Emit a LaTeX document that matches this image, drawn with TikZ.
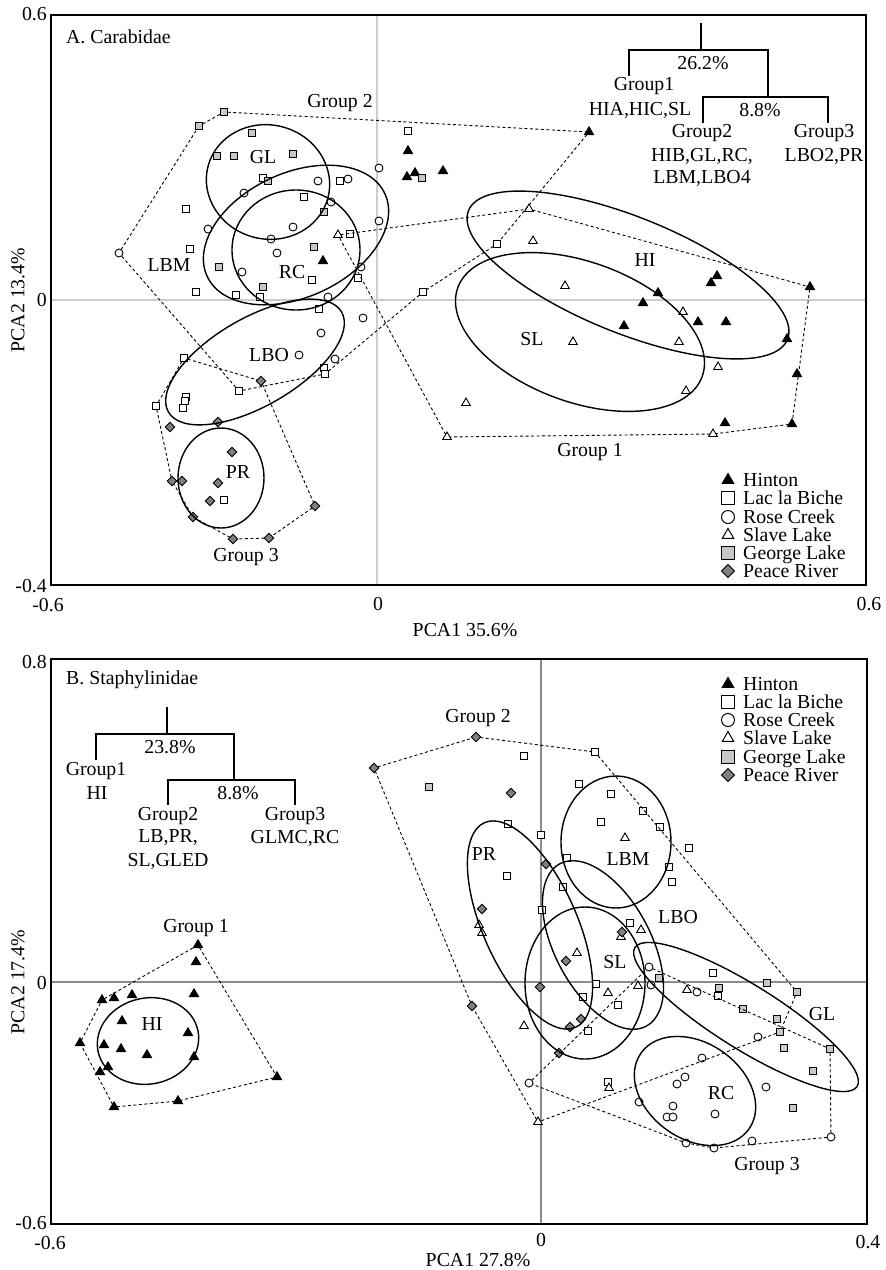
\documentclass[tikz,border=0pt]{standalone}
\usepackage{fontspec}
\setmainfont{Liberation Serif}
\usetikzlibrary{shapes.geometric}

\definecolor{zeroA}{gray}{0.80}
\definecolor{zeroB}{gray}{0.55}
\definecolor{glfill}{gray}{0.78}
\definecolor{prfill}{gray}{0.50}

\tikzset{
  ptbase/.style={draw=black, line width=0.9pt, inner sep=0pt, outer sep=0pt},
  hinton/.style={ptbase, regular polygon, regular polygon sides=3, minimum size=10.5pt, fill=black},
  lacbiche/.style={ptbase, rectangle, minimum size=7.5pt, fill=white},
  rosecreek/.style={ptbase, circle, minimum size=8pt, fill=white},
  slavelake/.style={ptbase, regular polygon, regular polygon sides=3, minimum size=10pt, fill=white},
  georgelake/.style={ptbase, rectangle, minimum size=7.5pt, fill=glfill},
  peaceriver/.style={ptbase, diamond, minimum size=9.5pt, fill=prfill},
  legmk/.style={minimum size=13pt, line width=1pt},
  hull/.style={line width=0.9pt, dash pattern=on 3pt off 2.5pt},
  ring/.style={line width=1.4pt},
  frame/.style={line width=1.5pt},
  tree/.style={line width=1.3pt},
  lbl/.style={inner sep=0pt}
}

\begin{document}
\begin{tikzpicture}[x=1pt, y=-1pt, font=\fontsize{19.8}{20}\selectfont]
  \useasboundingbox (0,0) rectangle (886,1270);

  % ---------------- A. Carabidae ----------------
  \draw[zeroA, line width=1.2pt] (377,15) -- (377,585);
  \draw[zeroA, line width=1.2pt] (51,300) -- (866,300);
  \draw[frame] (51,15) rectangle (866,585);

  \node[lbl, anchor=east] (yA1) at (47,14) {0.6};
  \node[lbl, anchor=east] (yA2) at (47,300) {0};
  \node[lbl, anchor=east] (yA3) at (47,586) {-0.4};
  \node[lbl] (xA1) at (48,605) {-0.6};
  \node[lbl] (xA2) at (378,604) {0};
  \node[lbl] (xA3) at (869,604) {0.6};
  \node[lbl] (xlabA) at (465,630) {PCA1 35.6\%};
  \node[lbl, rotate=90] (ylabA) at (18,300) {PCA2 13.4\%};
  \node[lbl, anchor=west] (titleA) at (66,37) {A. Carabidae};

  % points
  \foreach \n/\x/\y in {1/323/261, 2/408/151, 3/407/177, 4/415/173, 5/443/171, 6/589/132,
      7/624/326, 8/643/303, 9/658/293, 10/698/322, 11/726/322, 12/711/283, 13/717/276,
      14/810/287, 15/787/339, 16/797/374, 17/725/423, 18/792/424}
    \node[hinton] (hA\n) at (\x,\y) {};
  \foreach \n/\x/\y in {1/408/131, 2/186/209, 3/263/178, 4/304/197, 5/190/249, 6/312/280,
      7/196/292, 8/236/295, 9/260/297, 10/340/181, 11/350/234, 12/358/278, 13/319/309,
      14/324/368, 15/325/374, 16/423/292, 17/497/244, 18/184/358, 19/239/391, 20/186/397,
      21/185/401, 22/183/408, 23/156/406, 24/224/500}
    \node[lacbiche] (lA\n) at (\x,\y) {};
  \foreach \n/\x/\y in {1/318/181, 2/244/193, 3/208/229, 4/293/227, 5/271/239, 6/277/253,
      7/119/253, 8/242/272, 9/328/297, 10/348/179, 11/331/202, 12/379/168, 13/379/221,
      14/361/267, 15/321/333, 16/299/355, 17/363/318, 18/335/359}
    \node[rosecreek] (rA\n) at (\x,\y) {};
  \foreach \n/\x/\y in {1/338/235, 2/529/209, 3/533/241, 4/565/286, 5/573/342, 6/466/403,
      7/447/437, 8/683/312, 9/679/342, 10/718/367, 11/686/391, 12/713/434}
    \node[slavelake] (sA\n) at (\x,\y) {};
  \foreach \n/\x/\y in {1/224/112, 2/199/126, 3/252/133, 4/217/156, 5/234/156, 6/293/154,
      7/268/181, 8/324/212, 9/314/247, 10/219/267, 11/263/287, 12/422/178}
    \node[georgelake] (gA\n) at (\x,\y) {};
  \foreach \n/\x/\y in {1/261/381, 2/170/427, 3/218/422, 4/232/452, 5/172/481, 6/182/481,
      7/218/483, 8/210/501, 9/193/517, 10/315/506, 11/233/539, 12/269/538}
    \node[peaceriver] (pA\n) at (\x,\y) {};

  % hulls
  \draw[hull] (gA1) -- (hA6) -- (lA17) -- (lA16) -- (lA15) -- (lA19) -- (rA7) -- (gA2) -- (gA1);
  \draw[hull] (sA1) -- (sA2) -- (hA14) -- (hA18) -- (sA12) -- (sA7) -- (sA1);
  \draw[hull] (lA18) -- (pA1) -- (pA10) -- (pA12) -- (pA11) -- (pA9) -- (pA5) -- (lA23) -- (lA18);

  % ellipses
  \draw[ring, rotate around={-15:(268,182)}] (268,182) ellipse [x radius=62, y radius=57];
  \draw[ring, rotate around={25:(296,235)}] (296,235) ellipse [x radius=98, y radius=62];
  \draw[ring] (296,250) ellipse [x radius=64, y radius=60];
  \draw[ring, rotate around={30:(255,362)}] (255,362) ellipse [x radius=100, y radius=44];
  \draw[ring] (221,478) ellipse [x radius=43, y radius=50];
  \draw[ring, rotate around={-22:(628,275)}] (628,275) ellipse [x radius=172, y radius=58];
  \draw[ring, rotate around={-20:(580,332)}] (580,332) ellipse [x radius=130, y radius=70];

  \node[lbl] (GLa) at (263,157) {GL};
  \node[lbl] (LBMa) at (169,265) {LBM};
  \node[lbl] (RCa) at (292,272) {RC};
  \node[lbl] (LBOa) at (269,355) {LBO};
  \node[lbl] (PRa) at (238,472) {PR};
  \node[lbl] (HIa) at (645,260) {HI};
  \node[lbl] (SLa) at (532,339) {SL};
  \node[lbl] (grpA2) at (340,103) {Group 2};
  \node[lbl] (grpA1) at (590,452) {Group 1};
  \node[lbl] (grpA3) at (246,557) {Group 3};

  % dendrogram
  \draw[tree] (701,23) -- (701,50);
  \draw[tree] (629,76) -- (629,50) -- (768,50) -- (768,97);
  \draw[tree] (703,123) -- (703,97) -- (828,97) -- (828,123);
  \node[lbl] (dA1) at (703,63) {26.2\%};
  \node[lbl] (dA2) at (644,86) {Group1};
  \node[lbl] (dA3) at (640,110) {HIA,HIC,SL};
  \node[lbl] (dA4) at (760,110) {8.8\%};
  \node[lbl] (dA5) at (702,133) {Group2};
  \node[lbl] (dA6) at (702,156) {HIB,GL,RC,};
  \node[lbl] (dA7) at (702,178) {LBM,LBO4};
  \node[lbl] (dA8) at (824,133) {Group3};
  \node[lbl] (dA9) at (824,156) {LBO2,PR};

  % legend
  \foreach \s/\t/\y in {hinton/Hinton/480, lacbiche/Lac la Biche/498, rosecreek/Rose Creek/517,
      slavelake/Slave Lake/535, georgelake/George Lake/553, peaceriver/Peace River/571} {
    \node[\s, legmk] (legA-\s) at (728,\y) {};
    \node[lbl, anchor=base west] (legA-\s-t) at (743,\y+6.5) {\t};
  }

  % ---------------- B. Staphylinidae ----------------
  \draw[zeroB, line width=1.2pt] (541,659) -- (541,1224);
  \draw[zeroB, line width=1.2pt] (51,982) -- (867,982);
  \draw[frame] (51,659) rectangle (867,1224);

  \node[lbl, anchor=east] (yB1) at (47,662) {0.8};
  \node[lbl, anchor=east] (yB2) at (47,983) {0};
  \node[lbl, anchor=east] (yB3) at (47,1223) {-0.6};
  \node[lbl] (xB1) at (50,1243) {-0.6};
  \node[lbl] (xB2) at (541,1240) {0};
  \node[lbl] (xB3) at (868,1242) {0.4};
  \node[lbl] (xlabB) at (478,1260) {PCA1 27.8\%};
  \node[lbl, rotate=90] (ylabB) at (18,982) {PCA2 17.4\%};
  \node[lbl, anchor=west] (titleB) at (66,680) {B. Staphylinidae};

  % points
  \foreach \n/\x/\y in {1/198/945, 2/196/962, 3/102/1000, 4/114/998, 5/132/995, 6/194/994,
      7/122/1021, 8/188/1033, 9/80/1043, 10/104/1045, 11/121/1049, 12/147/1055, 13/194/1057,
      14/108/1067, 15/100/1072, 16/277/1077, 17/178/1101, 18/114/1107}
    \node[hinton] (hB\n) at (\x,\y) {};
  \foreach \n/\x/\y in {1/524/756, 2/595/752, 3/579/784, 4/508/824, 5/541/835, 6/601/822,
      7/611/794, 8/643/811, 9/660/827, 10/689/848, 11/669/867, 12/672/882, 13/507/876,
      14/567/858, 15/563/887, 16/542/910, 17/630/923, 18/596/984, 19/583/997, 20/588/1031,
      21/618/1005, 22/713/973, 23/718/996, 24/608/1082}
    \node[lacbiche] (lB\n) at (\x,\y) {};
  \foreach \n/\x/\y in {1/649/967, 2/651/985, 3/697/992, 4/758/1037, 5/702/1058, 6/685/1077,
      7/677/1084, 8/766/1087, 9/639/1102, 10/673/1106, 11/667/1117, 12/673/1117,
      13/715/1114, 14/686/1143, 15/714/1148, 16/752/1141, 17/831/1137, 18/529/1083}
    \node[rosecreek] (rB\n) at (\x,\y) {};
  \foreach \n/\x/\y in {1/625/838, 2/479/925, 3/482/933, 4/621/937, 5/641/930, 6/577/953,
      7/608/993, 8/638/986, 9/687/990, 10/524/1026, 11/609/1088, 12/538/1122}
    \node[slavelake] (sB\n) at (\x,\y) {};
  \foreach \n/\x/\y in {1/429/787, 2/659/978, 3/767/983, 4/719/988, 5/797/992, 6/743/1009,
      7/777/1019, 8/780/1032, 9/784/1048, 10/830/1049, 11/813/1071, 12/793/1108}
    \node[georgelake] (gB\n) at (\x,\y) {};
  \foreach \n/\x/\y in {1/476/737, 2/374/768, 3/511/793, 4/546/864, 5/482/909, 6/622/932,
      7/566/961, 8/540/987, 9/472/1006, 10/570/1027, 11/581/1019, 12/559/1053}
    \node[peaceriver] (pB\n) at (\x,\y) {};

  % hulls
  \draw[hull] (hB1) -- (hB16) -- (hB17) -- (hB18) -- (hB9) -- (hB3) -- (hB1);
  \draw[hull] (pB2) -- (pB1) -- (lB2) -- (gB5) -- (gB8) -- (sB12) -- (pB9) -- (pB2);
  \draw[hull] (rB18) -- (rB1) -- (gB10) -- (rB17) -- (rB15) -- (rB14) -- (rB18);

  % ellipses
  \draw[ring, rotate around={12:(148,1041)}] (148,1041) ellipse [x radius=51, y radius=43];
  \draw[ring, rotate around={-66:(530,925)}] (530,925) ellipse [x radius=112, y radius=47];
  \draw[ring] (616,842) ellipse [x radius=55, y radius=66];
  \draw[ring, rotate around={-62:(603,945)}] (603,945) ellipse [x radius=92, y radius=48];
  \draw[ring] (585,983) ellipse [x radius=60, y radius=76];
  \draw[ring, rotate around={-32:(746,1017)}] (746,1017) ellipse [x radius=131, y radius=32];
  \draw[ring, rotate around={-35:(695,1091)}] (695,1091) ellipse [x radius=66, y radius=48];

  \node[lbl] (HIb) at (152,1024) {HI};
  \node[lbl] (PRb) at (484,854) {PR};
  \node[lbl] (LBMb) at (628,859) {LBM};
  \node[lbl] (LBOb) at (678,917) {LBO};
  \node[lbl] (SLb) at (615,962) {SL};
  \node[lbl] (GLb) at (822,1014) {GL};
  \node[lbl] (RCb) at (721,1093) {RC};
  \node[lbl] (grpB1) at (196,928) {Group 1};
  \node[lbl] (grpB2) at (478,718) {Group 2};
  \node[lbl] (grpB3) at (767,1166) {Group 3};

  % dendrogram
  \draw[tree] (167,707) -- (167,734);
  \draw[tree] (96,760) -- (96,734) -- (234,734) -- (234,780);
  \draw[tree] (168,805) -- (168,780) -- (295,780) -- (295,805);
  \node[lbl] (dB1) at (170,747) {23.8\%};
  \node[lbl] (dB2) at (96,771) {Group1};
  \node[lbl] (dB3) at (97,793) {HI};
  \node[lbl] (dB4) at (238,793) {8.8\%};
  \node[lbl] (dB5) at (168,816) {Group2};
  \node[lbl] (dB6) at (168,838) {LB,PR,};
  \node[lbl] (dB7) at (168,861) {SL,GLED};
  \node[lbl] (dB8) at (295,816) {Group3};
  \node[lbl] (dB9) at (295,838) {GLMC,RC};

  % legend
  \foreach \s/\t/\y in {hinton/Hinton/684, lacbiche/Lac la Biche/702, rosecreek/Rose Creek/720,
      slavelake/Slave Lake/738, georgelake/George Lake/757, peaceriver/Peace River/775} {
    \node[\s, legmk] (legB-\s) at (728,\y) {};
    \node[lbl, anchor=base west] (legB-\s-t) at (743,\y+6.5) {\t};
  }
\end{tikzpicture}
\end{document}
